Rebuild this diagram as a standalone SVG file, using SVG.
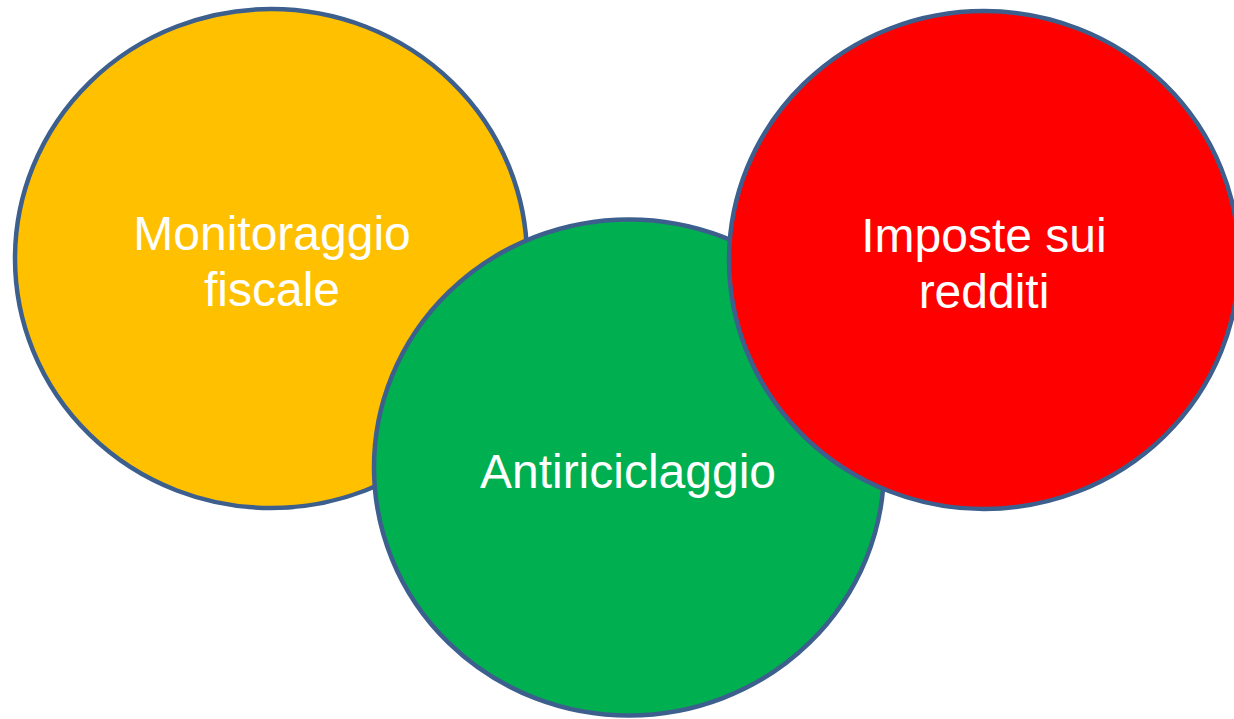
<svg xmlns="http://www.w3.org/2000/svg" width="1234" height="719" viewBox="0 0 1234 719">
<style>
.c{stroke:#3C5F8E;stroke-width:4.5}
.t{fill:#FFFFFF;font-family:"Liberation Sans",Arial,sans-serif;font-size:48px;text-anchor:middle}
</style>
<rect width="1234" height="719" fill="#FFFFFF"/>
<g id="monitoraggio">
<ellipse class="c" cx="271" cy="258.5" rx="256" ry="249.5" fill="#FFC000"/>
<text class="t" x="272" y="250">Monitoraggio</text>
<text class="t" x="272" y="306">fiscale</text>
</g>
<g id="antiriciclaggio">
<ellipse class="c" cx="629" cy="467.5" rx="255" ry="248" fill="#00B050"/>
<text class="t" x="628" y="488">Antiriciclaggio</text>
</g>
<g id="imposte">
<ellipse class="c" cx="984" cy="260" rx="255" ry="249" fill="#FF0000"/>
<text class="t" x="984" y="252">Imposte sui</text>
<text class="t" x="984" y="308">redditi</text>
</g>
<g id="connectors"/>
</svg>
